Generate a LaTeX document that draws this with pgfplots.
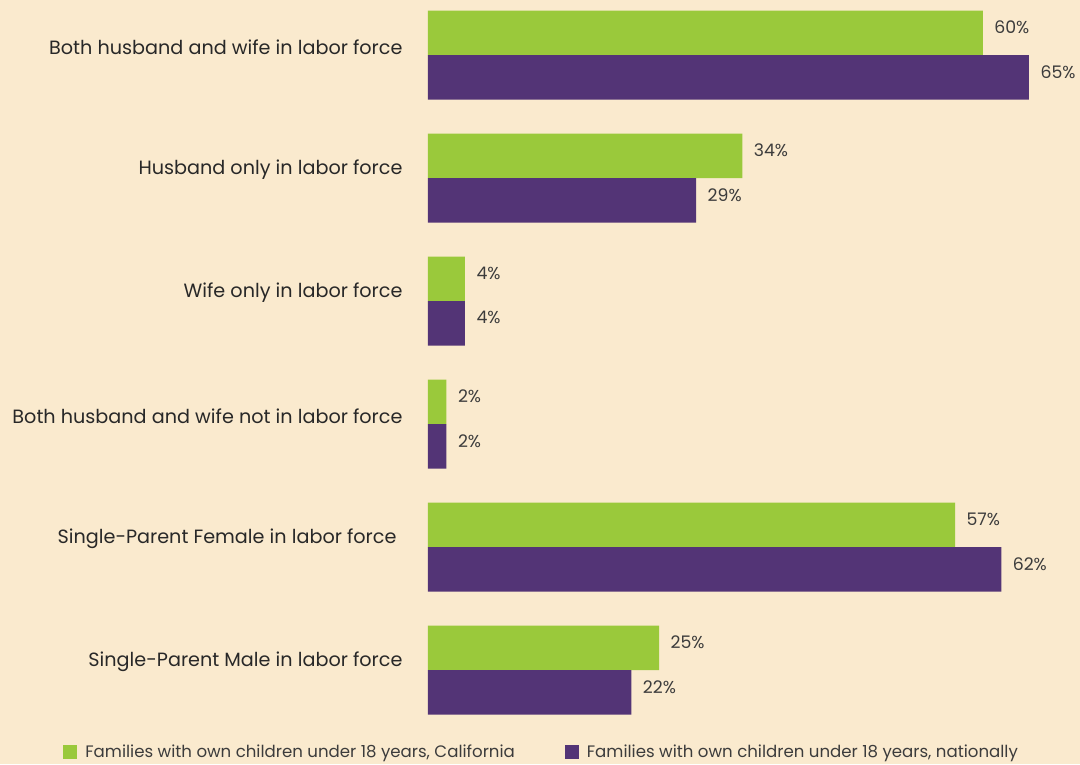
\documentclass[border=0pt]{standalone}
\usepackage{fontspec}
\setmainfont{Poppins}
\usepackage{pgfplots}
\pgfplotsset{compat=1.18}
\definecolor{bg}{RGB}{250,234,206}
\definecolor{cagreen}{RGB}{154,201,59}
\definecolor{natpurple}{RGB}{83,52,118}
\definecolor{labelgray}{RGB}{60,60,60}
\definecolor{cattext}{RGB}{40,40,40}
\begin{document}
\begin{tikzpicture}[x=1pt,y=1pt]
\fill[bg] (0,0) rectangle (1080,-764);
\begin{axis}[
  at={(428pt,-725.35pt)}, anchor=south west,
  scale only axis, width=601pt, height=725.7pt,
  xmin=0, xmax=65, ymin=-0.45, ymax=5.45,
  xbar, bar width=44.5pt,
  axis line style={draw=none},
  major tick length=0pt,
  xtick=\empty,
  ytick={0,1,2,3,4,5},
  /pgf/number format/assume math mode=true,
  yticklabels={Single-Parent Male in labor force, Single-Parent Female in labor force\hspace*{6pt}, Both husband and wife not in labor force, Wife only in labor force, Husband only in labor force, Both husband and wife in labor force},
  yticklabel style={font=\fontsize{19.2}{19.2}\selectfont, text=cattext, anchor=east, xshift=-22pt, yshift=8pt},
  clip=false,
  nodes near coords={\pgfmathprintnumber{\pgfplotspointmeta}\%},
  every node near coord/.append style={anchor=west, xshift=8pt, yshift=5.5pt, font=\fontsize{17.3}{17.3}\selectfont, text=labelgray},
  legend columns=2,
  legend style={draw=none, fill=none, at={(-0.612,-0.037)}, anchor=west, font=\fontsize{16.6}{16.6}\selectfont, text=labelgray,
    /tikz/every odd column/.append style={column sep=6pt},
    /tikz/every even column/.append style={column sep=48pt}},
  legend image code/.code={\fill[#1] (0pt,-7pt) rectangle (14pt,7pt);},
]
\addplot[fill=cagreen, draw=none, bar shift=22.25pt] coordinates {(60,5) (34,4) (4,3) (2,2) (57,1) (25,0)};
\addlegendentry{Families with own children under 18 years, California}
\addplot[fill=natpurple, draw=none, bar shift=-22.25pt] coordinates {(65,5) (29,4) (4,3) (2,2) (62,1) (22,0)};
\addlegendentry{Families with own children under 18 years, nationally}
\end{axis}
\pgfresetboundingbox
\useasboundingbox (0,0) rectangle (1080,-764);
\end{tikzpicture}
\end{document}
